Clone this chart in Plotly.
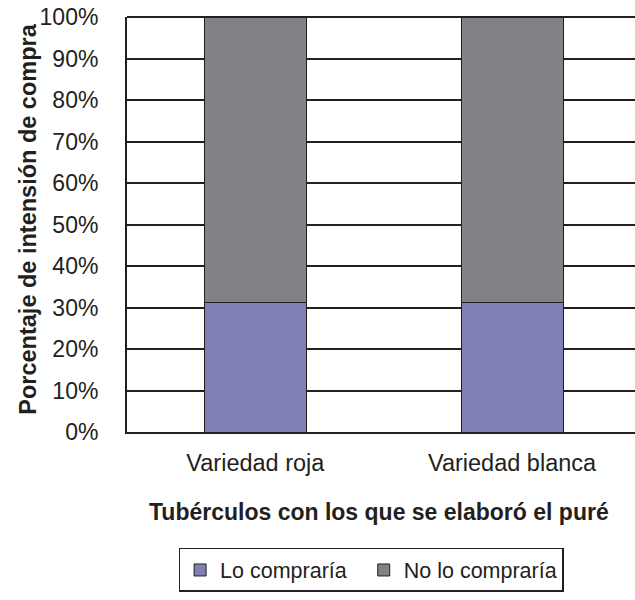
import plotly.graph_objects as go

categories = ["Variedad roja", "Variedad blanca"]
lo_compraria = [31.3, 31.3]
no_lo_compraria = [68.7, 68.7]
series_names = ["Lo compraría", "No lo compraría"]
y_ticks = [0, 10, 20, 30, 40, 50, 60, 70, 80, 90, 100]
y_tick_labels = [f"{v}%" for v in y_ticks]

dark = "#231f20"
font = "Liberation Sans, Arial, sans-serif"

fig = go.Figure()
fig.add_trace(go.Bar(x=categories, y=lo_compraria, name=series_names[0] + "\u00a0\u00a0",
                     marker=dict(color="#8080b4", line=dict(color=dark, width=1))))
fig.add_trace(go.Bar(x=categories, y=no_lo_compraria, name=series_names[1],
                     marker=dict(color="#808285", line=dict(color=dark, width=1))))

fig.update_layout(
    barmode="stack",
    bargap=0.603,
    width=635, height=600,
    margin=dict(l=126.5, r=0, t=17, b=168),
    paper_bgcolor="white", plot_bgcolor="white",
    font=dict(family=font, size=24, color=dark),
    showlegend=True,
    legend=dict(orientation="h", x=0.4805, xanchor="center", y=-0.2795, yanchor="top",
                bordercolor=dark, borderwidth=1.5, font=dict(size=21.5),
                itemwidth=30, traceorder="normal"),
    xaxis=dict(range=[-0.5, 1.479], showgrid=False, showline=True, linecolor=dark, linewidth=2,
               ticks="", ticklabelstandoff=9, tickfont=dict(size=23.5)),
    yaxis=dict(range=[0, 100], tickvals=y_ticks, ticktext=y_tick_labels,
               showgrid=True, gridcolor=dark, gridwidth=2, showline=True, linecolor=dark,
               linewidth=2, ticks="", ticklabelstandoff=22, zeroline=False,
               tickfont=dict(size=23)),
    annotations=[
        dict(text="<b>Porcentaje de intensión de compra</b>", textangle=-90,
             xref="paper", yref="paper", x=-0.1937, y=0.513, xanchor="center", yanchor="middle",
             showarrow=False, font=dict(size=23.5)),
        dict(text="<b>Tubérculos con los que se elaboró el puré</b>",
             xref="paper", yref="paper", x=0.4956, y=-0.193, xanchor="center", yanchor="middle",
             showarrow=False, font=dict(size=23)),
    ],
)
fig.add_shape(type="line", xref="paper", yref="paper", x0=0, x1=1, y0=1, y1=1,
              line=dict(color=dark, width=2))

fig.write_html("out.html")
